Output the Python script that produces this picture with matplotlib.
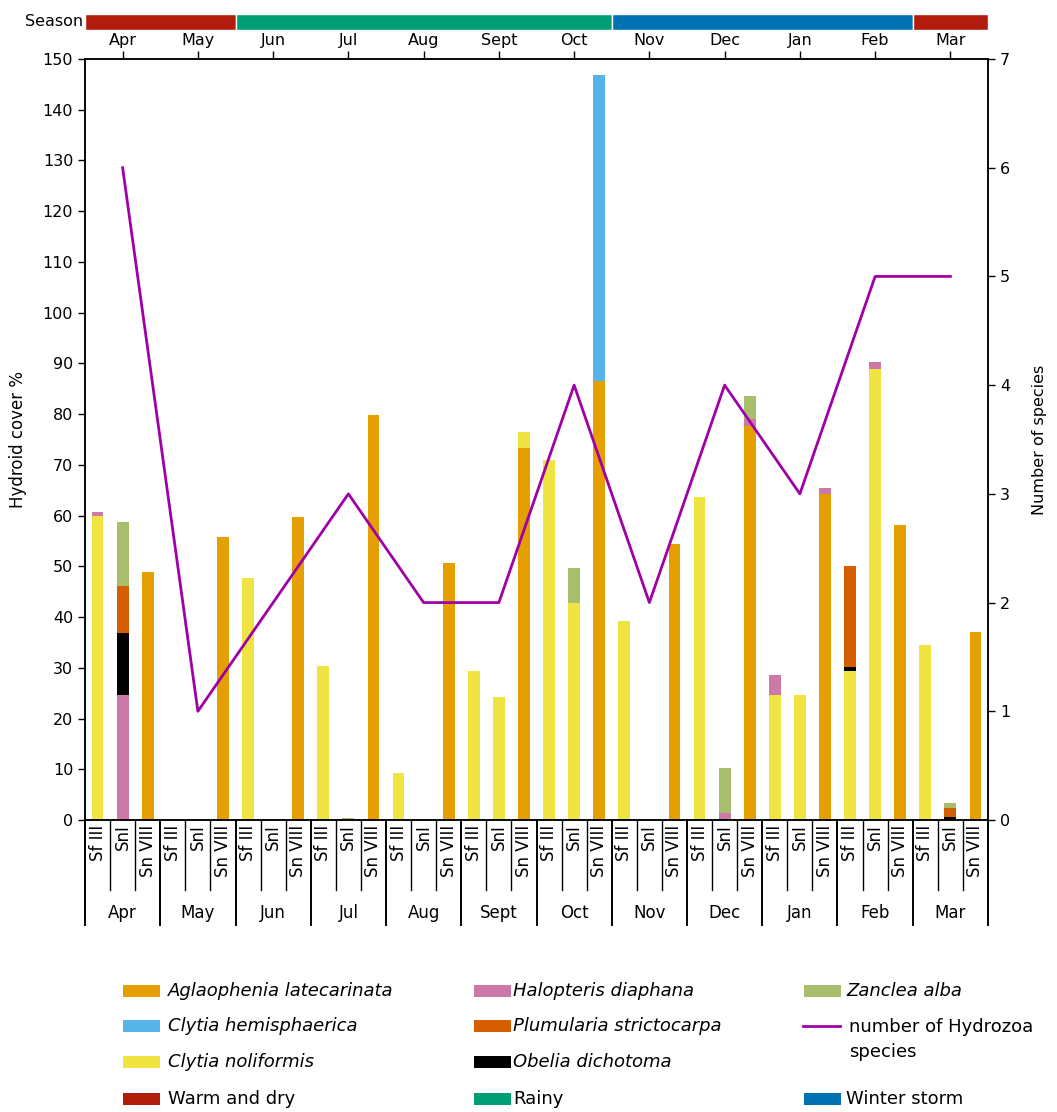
import matplotlib
matplotlib.use('Agg')
import matplotlib.pyplot as plt
import numpy as np
from matplotlib.patches import Rectangle
from matplotlib.lines import Line2D
from matplotlib.transforms import blended_transform_factory

plt.rcParams['font.family'] = ['DejaVu Sans']

months = ['Apr', 'May', 'Jun', 'Jul', 'Aug', 'Sept', 'Oct', 'Nov', 'Dec', 'Jan', 'Feb', 'Mar']
sites = ['Sf III', 'SnI', 'Sn VIII']

# values per month: [Sf III, SnI, Sn VIII]
aglaophenia = [0, 0, 48.8,  0, 0, 55.7,  0, 0, 59.7,  0, 0, 79.8,  0, 0, 50.7,  0, 0, 73.4,
               0, 0, 86.6,  0, 0, 54.4,  0, 0, 77.7,  0, 0, 64.2,  0, 0, 58.1,  0, 0, 37.0]
c_noliformis = [60.0, 0, 0,  0, 0, 0,  47.7, 0, 0,  30.4, 0, 0,  9.3, 0, 0,  29.4, 24.2, 3.0,
                70.9, 42.8, 0,  39.2, 0, 0,  63.7, 0, 0,  24.6, 24.6, 0,  29.4, 88.9, 0,  34.4, 0, 0]
halopteris = [0.8, 24.6, 0,  0, 0, 0,  0, 0, 0,  0, 0, 0,  0, 0, 0,  0, 0, 0,
              0, 0, 0,  0, 0, 0,  0, 1.4, 1.3,  3.9, 0, 1.2,  0, 1.4, 0,  0, 0, 0]
obelia = [0, 12.3, 0,  0, 0, 0,  0, 0, 0,  0, 0, 0,  0, 0, 0,  0, 0, 0,
          0, 0, 0,  0, 0, 0,  0, 0, 0,  0, 0, 0,  0.7, 0, 0,  0, 0.6, 0]
plumularia = [0, 9.3, 0,  0, 0, 0,  0, 0, 0,  0, 0, 0,  0, 0, 0,  0, 0, 0,
              0, 0, 0,  0, 0, 0,  0, 0, 0,  0, 0, 0,  20.0, 0, 0,  0, 1.7, 0]
zanclea = [0, 12.6, 0,  0, 0, 0,  0, 0, 0,  0, 0.4, 0,  0, 0, 0,  0, 0, 0,
           0, 6.8, 0,  0, 0, 0,  0, 8.9, 4.6,  0, 0, 0,  0, 0, 0,  0, 1.0, 0]
c_hemisphaerica = [0, 0, 0,  0, 0, 0,  0, 0, 0,  0, 0, 0,  0, 0, 0,  0, 0, 0,
                   0, 0, 60.3,  0, 0, 0,  0, 0, 0,  0, 0, 0,  0, 0, 0,  0, 0, 0]

species_counts = [6, 1, 2, 3, 2, 2, 4, 2, 4, 3, 5, 5]
season_of_month = ['Warm and dry', 'Warm and dry', 'Rainy', 'Rainy', 'Rainy', 'Rainy', 'Rainy',
                   'Winter storm', 'Winter storm', 'Winter storm', 'Winter storm', 'Warm and dry']

colors = {
    'Aglaophenia latecarinata': '#E69F00',
    'Clytia hemisphaerica': '#56B4E9',
    'Clytia noliformis': '#F0E442',
    'Halopteris diaphana': '#CC79A7',
    'Plumularia strictocarpa': '#D55E00',
    'Obelia dichotoma': '#000000',
    'Zanclea alba': '#A9BE6C',
}
season_colors = {'Warm and dry': '#B11C0C', 'Rainy': '#009E73', 'Winter storm': '#0072B2'}
line_color = '#A000A8'

stack = [
    ('Aglaophenia latecarinata', aglaophenia),
    ('Clytia noliformis', c_noliformis),
    ('Halopteris diaphana', halopteris),
    ('Obelia dichotoma', obelia),
    ('Plumularia strictocarpa', plumularia),
    ('Zanclea alba', zanclea),
    ('Clytia hemisphaerica', c_hemisphaerica),
]

W, H = 1057, 1112
fig = plt.figure(figsize=(W / 100, H / 100), dpi=100)

def fx(px):
    return px / W

def fy(py):
    return 1 - py / H

ax = fig.add_axes([fx(85), fy(820), fx(988) - fx(85), fy(59) - fy(820)])
n = len(sites) * len(months)
x = np.arange(n)
bottom = np.zeros(n)
for name, vals in stack:
    vals = np.array(vals, dtype=float)
    ax.bar(x, vals, 0.47, bottom=bottom, color=colors[name], edgecolor='none', zorder=2)
    bottom += vals

ax.set_xlim(-0.5, n - 0.5)
ax.set_ylim(0, 150)
ax.set_yticks(range(0, 151, 10))
ax.tick_params(axis='y', direction='out', length=5, width=1, labelsize=11.5)
month_pos = [3 * m + 1 for m in range(len(months))]
ax.xaxis.tick_top()
ax.set_xticks(month_pos)
ax.set_xticklabels(months)
ax.tick_params(axis='x', direction='out', length=6, width=1, labelsize=11.5, pad=2)
ax.set_ylabel('Hydroid cover %', fontsize=12)
ax.yaxis.set_label_coords(-0.064, 0.5)
for sp in ax.spines.values():
    sp.set_linewidth(1.1)

ax2 = ax.twinx()
ax2.plot(month_pos, species_counts, color=line_color, lw=2.0, zorder=5)
ax2.set_ylim(0, 7)
ax2.set_yticks(range(0, 8))
ax2.tick_params(axis='y', direction='out', length=5, width=1, labelsize=11.5)
ax2.set_ylabel('Number of species', fontsize=11.5)
ax2.yaxis.set_label_coords(1.049, 0.5)
for sp in ax2.spines.values():
    sp.set_linewidth(1.1)

# multi-level bottom labels
trans = blended_transform_factory(ax.transData, ax.transAxes)
for i in range(n + 1):
    xb = i - 0.5
    long_line = (i % 3 == 0)
    ax.plot([xb, xb], [0, -0.138 if long_line else -0.092], transform=trans,
            clip_on=False, color='black', lw=1.4 if long_line else 1.0)
for i in range(n):
    ax.text(i, -0.006, sites[i % 3], rotation=90, ha='center', va='top',
            transform=trans, fontsize=12)
for m, mon in enumerate(months):
    ax.text(month_pos[m], -0.122, mon, ha='center', va='center', transform=trans, fontsize=12)

# season bar
sax = fig.add_axes([fx(85), fy(30), fx(988) - fx(85), fy(14) - fy(30)])
sax.set_xlim(-0.5, n - 0.5)
sax.set_ylim(0, 1)
sax.axis('off')
runs = []
start = 0
for m in range(1, len(months) + 1):
    if m == len(months) or season_of_month[m] != season_of_month[start]:
        runs.append((start, m, season_of_month[start]))
        start = m
for s, e, name in runs:
    sax.barh(0.5, 3 * (e - s), left=3 * s - 0.5, height=1, color=season_colors[name],
             edgecolor='white', lw=1)
sax.text(-0.002, 0.5, 'Season', transform=sax.transAxes, ha='right', va='center', fontsize=11.5)

# legend (manual layout)
def leg_patch(x0, yc, color, label, italic, tx):
    fig.add_artist(Rectangle((fx(x0), fy(yc + 6)), fx(37), 12 / H, transform=fig.transFigure,
                             facecolor=color, edgecolor='none'))
    fig.text(fx(tx), fy(yc), label, ha='left', va='center', fontsize=13,
             fontstyle='italic' if italic else 'normal')

rows = [991, 1026, 1062, 1099]
leg_patch(123, rows[0], colors['Aglaophenia latecarinata'], 'Aglaophenia latecarinata', True, 168)
leg_patch(123, rows[1], colors['Clytia hemisphaerica'], 'Clytia hemisphaerica', True, 168)
leg_patch(123, rows[2], colors['Clytia noliformis'], 'Clytia noliformis', True, 168)
leg_patch(123, rows[3], season_colors['Warm and dry'], 'Warm and dry', False, 168)
leg_patch(474, rows[0], colors['Halopteris diaphana'], 'Halopteris diaphana', True, 513)
leg_patch(474, rows[1], colors['Plumularia strictocarpa'], 'Plumularia strictocarpa', True, 513)
leg_patch(474, rows[2], colors['Obelia dichotoma'], 'Obelia dichotoma', True, 513)
leg_patch(474, rows[3], season_colors['Rainy'], 'Rainy', False, 513)
leg_patch(804, rows[0], colors['Zanclea alba'], 'Zanclea alba', True, 846)
fig.add_artist(Line2D([fx(803), fx(840)], [fy(1026), fy(1026)], transform=fig.transFigure,
                      color=line_color, lw=2))
fig.text(fx(849), fy(1018), 'number of Hydrozoa\nspecies', ha='left', va='top', fontsize=13,
         linespacing=1.5)
leg_patch(804, rows[3], season_colors['Winter storm'], 'Winter storm', False, 846)

fig.savefig('out.png', dpi=100)
